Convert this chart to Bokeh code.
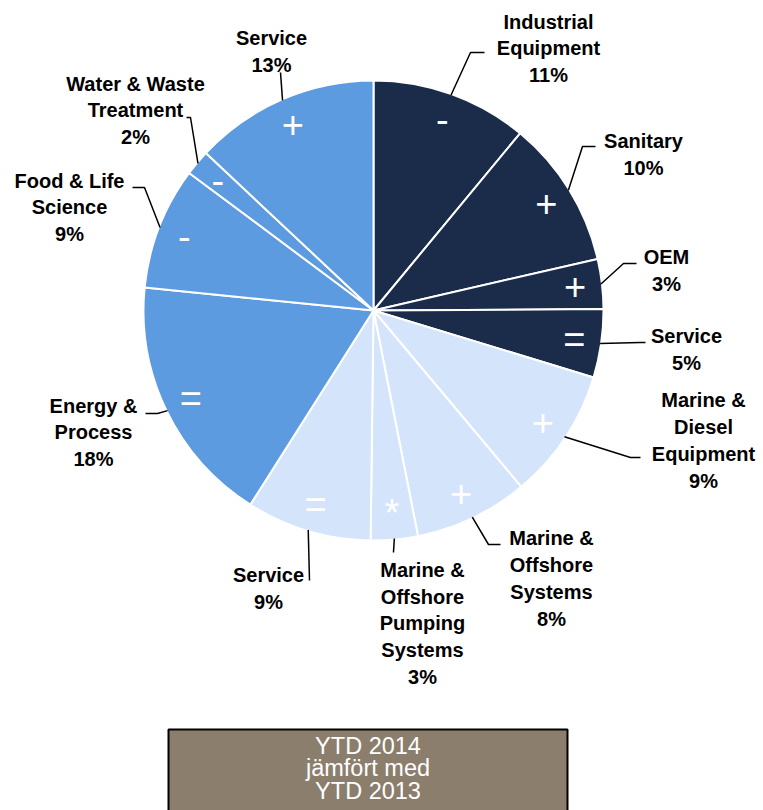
import math
from bokeh.plotting import figure
from bokeh.models import Range1d, ColumnDataSource
from bokeh.core.properties import value
from bokeh.embed import file_html
from bokeh.resources import INLINE

# ---------------- data ----------------
segments = ["Industrial\nEquipment", "Sanitary", "OEM", "Service",
            "Marine &\nDiesel\nEquipment", "Marine &\nOffshore\nSystems",
            "Marine &\nOffshore\nPumping\nSystems", "Service",
            "Energy &\nProcess", "Food & Life\nScience",
            "Water & Waste\nTreatment", "Service"]
shares = [11.0, 10.4, 3.5, 4.8, 9.2, 8.0, 3.3, 8.8, 17.6, 8.6, 1.8, 13.0]
label_pct = [11, 10, 3, 5, 9, 8, 3, 9, 18, 9, 2, 13]
trend = ["-", "+", "+", "=", "+", "+", "*", "=", "=", "-", "-", "+"]
division = ["A", "A", "A", "A", "B", "B", "B", "B", "C", "C", "C", "C"]
box_lines = ["YTD 2014", "jämfört med", "YTD 2013"]

# ---------------- style / layout ----------------
colors = {"A": "#1a2c4a", "B": "#d4e5fb", "C": "#5d9be0"}
CX, CY, R = 373, 310, 230          # pie centre / radius in page pixels
W, H = 763, 810

def px(x):
    return x - CX

def py(y):
    return CY - y

# label block centres (page px)
label_pos = [(548, 48), (643, 154), (666, 270), (686, 349), (703, 440),
             (551, 578), (422, 623), (268, 588), (93, 432), (69, 207),
             (135, 110), (271, 51)]
# leader elbow and end points (page px)
leader_pts = [[(470, 52), (484, 52)], [(582, 146), (595, 146)],
              [(623, 263), (636, 263)], [(640, 342), (645, 342)],
              [(630, 457), (640, 457)], [(488, 544), (500, 544)],
              [(393, 552), (393, 552)], [(309, 580), (309, 580)],
              [(157, 413), (145, 413)], [(144, 187), (132, 187)],
              [(190, 117), (186, 117)], [(280, 72), (280, 72)]]

p = figure(width=W, height=H, output_backend="svg", toolbar_location=None,
           x_range=Range1d(px(0), px(W)), y_range=Range1d(py(H), py(0)),
           min_border=0)
p.axis.visible = False
p.grid.visible = False
p.outline_line_color = None
p.background_fill_color = "white"
p.border_fill_color = "white"

total = sum(shares)
starts, ends, mids = [], [], []
cum = 0.0
for s in shares:
    a0 = cum / total
    cum += s
    a1 = cum / total
    starts.append(math.pi / 2 - 2 * math.pi * a0)
    ends.append(math.pi / 2 - 2 * math.pi * a1)
    mids.append(math.pi / 2 - 2 * math.pi * (a0 + a1) / 2)

src = ColumnDataSource(dict(
    start=starts, end=ends, color=[colors[d] for d in division],
    name=segments, pct=label_pct))
p.wedge(x=0, y=0, radius=R, start_angle="start", end_angle="end",
        direction="clock", fill_color="color", line_color="white",
        line_width=2, source=src)

# trend symbols
sym_r = 203
p.text(x=[sym_r * math.cos(m) for m in mids],
       y=[sym_r * math.sin(m) for m in mids],
       text=trend, text_color="white", text_font=value("Liberation Sans"),
       text_font_size="38px", text_align="center", text_baseline="middle")

# leader lines
xs, ys = [], []
for m, pts in zip(mids, leader_pts):
    sx, sy = 229 * math.cos(m), 229 * math.sin(m)
    xs.append([sx] + [px(a) for a, b in pts])
    ys.append([sy] + [py(b) for a, b in pts])
p.multi_line(xs=xs, ys=ys, line_color="black", line_width=1.5)

# labels
p.text(x=[px(a) for a, b in label_pos], y=[py(b) for a, b in label_pos],
       text=[f"{n}\n{v}%" for n, v in zip(segments, label_pct)],
       text_color="black", text_font=value("Liberation Sans"),
       text_font_style="bold", text_font_size="20px", text_align="center",
       text_baseline="middle", text_line_height=1.22)

# bottom box
p.quad(left=px(168), right=px(567), top=py(729), bottom=py(840),
       fill_color="#8b7e6d", line_color="black", line_width=2)
p.text(x=[px(367.5)] * 3, y=[py(745), py(767.5), py(790)], text=box_lines,
       text_color="white", text_font=value("Liberation Sans"),
       text_font_size="23.5px", text_align="center", text_baseline="middle")

open("out.html", "w").write(file_html(p, INLINE))
